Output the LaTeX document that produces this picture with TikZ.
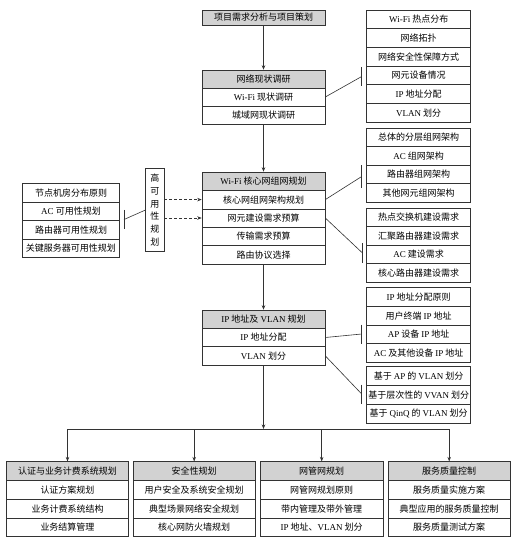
\documentclass[tikz,border=0pt]{standalone}
\usepackage{fontspec}
\setmainfont{Noto Sans CJK SC}
\newfontfamily\latf{Liberation Serif}
\newcommand\lt[1]{{\latf #1}}
\usetikzlibrary{arrows.meta}
\tikzset{
  cell/.style={draw=black!80, line width=0.6pt, inner sep=0pt, font=\fontsize{9}{10}\selectfont},
  ln/.style={draw=black!80, line width=0.6pt},
  arr/.style={ln, -{Stealth[length=4.5pt,width=3.5pt]}},
  darr/.style={arr, dashed, dash pattern=on 3pt off 2pt},
  hdr/.style={fill=gray!35}
}
\newcommand\cellstack[7]{%
  \foreach \t [count=\i] in {#7} {
    \ifnum\i=1 \def\cf{#6}\else\def\cf{white}\fi
    \node[cell, fill=\cf, minimum width=#4pt, minimum height=#5pt] (#1\i) at (#2, {#3+(\i-0.5)*#5}) {\t};
  }}
\begin{document}
\begin{tikzpicture}[x=1pt,y=-1pt]
\useasboundingbox[fill=white] (0,0) rectangle (515,539);
% main column
\node[cell, hdr, minimum width=123pt, minimum height=15pt] (top) at (263.5,17.5) {项目需求分析与项目策划};
\cellstack{n}{263.5}{70}{123}{18}{gray!35}{网络现状调研, \lt{Wi-Fi} 现状调研, 城域网现状调研}
\cellstack{c}{263.5}{172}{123}{18.4}{gray!35}{\lt{Wi-Fi} 核心网组网规划, 核心网组网架构规划, 网元建设需求预算, 传输需求预算, 路由协议选择}
\cellstack{ip}{263.5}{310}{123}{18.33}{gray!35}{\lt{IP} 地址及 \lt{VLAN} 规划, \lt{IP} 地址分配, \lt{VLAN} 划分}
% right lists
\cellstack{ra}{418.7}{10}{104}{18.67}{white}{\lt{Wi-Fi} 热点分布, 网络拓扑, 网络安全性保障方式, 网元设备情况, \lt{IP} 地址分配, \lt{VLAN} 划分}
\cellstack{rb}{418.7}{128}{104}{18.5}{white}{总体的分层组网架构, \lt{AC} 组网架构, 路由器组网架构, 其他网元组网架构}
\cellstack{rc}{418.7}{208}{104}{18.5}{white}{热点交换机建设需求, 汇聚路由器建设需求, \lt{AC} 建设需求, 核心路由器建设需求}
\cellstack{rd}{418.7}{287.7}{104}{18.65}{white}{\lt{IP} 地址分配原则, 用户终端 \lt{IP} 地址, \lt{AP} 设备 \lt{IP} 地址, \lt{AC} 及其他设备 \lt{IP} 地址}
\cellstack{re}{418.7}{366.7}{104}{18.87}{white}{基于 \lt{AP} 的 \lt{VLAN} 划分, 基于层次性的 \lt{VVAN} 划分, 基于 \lt{QinQ} 的 \lt{VLAN} 划分}
% left
\cellstack{la}{71}{183.3}{96.6}{18.6}{white}{节点机房分布原则, \lt{AC} 可用性规划, 路由器可用性规划, 关键服务器可用性规划}
\node[cell, minimum width=18.3pt, minimum height=83.4pt, align=center, font=\fontsize{9}{12.8}\selectfont] (ha) at (154.9,210) {高\\可\\用\\性\\规\\划};
% bottom
\cellstack{ba}{67.5}{461.7}{121.6}{18.75}{gray!35}{认证与业务计费系统规划, 认证方案规划, 业务计费系统结构, 业务结算管理}
\cellstack{bb}{194.2}{461.7}{121.6}{18.75}{gray!35}{安全性规划, 用户安全及系统安全规划, 典型场景网络安全规划, 核心网防火墙规划}
\cellstack{bc}{321.7}{461.7}{123.3}{18.75}{gray!35}{网管网规划, 网管网规划原则, 带内管理及带外管理, \lt{IP} 地址、\lt{VLAN} 划分}
\cellstack{bd}{449.2}{461.7}{121.7}{18.75}{gray!35}{服务质量控制, 服务质量实施方案, 典型应用的服务质量控制, 服务质量测试方案}
% main arrows
\draw[arr] (top.south) -- (n1.north);
\draw[arr] (n3.south) -- (c1.north);
\draw[arr] (c5.south) -- (ip1.north);
\coordinate (j) at (263.5,429);
\draw[arr] (ip3.south) -- (j);
\draw[arr] (j) -| (ba1.north);
\draw[arr] (j) -| (bb1.north);
\draw[arr] (j) -| (bc1.north);
\draw[arr] (j) -| (bd1.north);
% bracket connectors
\coordinate (k1) at (361.7,76.5);
\draw[ln] (n2.east) -- (k1);
\draw[ln] ([yshift=9.5pt]k1) -- ([yshift=-9.5pt]k1);
\coordinate (k2) at (361.7,176.5);
\draw[ln] (c2.east) -- (k2);
\draw[ln] ([yshift=11.5pt]k2) -- ([yshift=-11.5pt]k2);
\coordinate (k3) at (362.5,253);
\draw[ln] (c3.east) -- (k3);
\draw[ln] ([yshift=10pt]k3) -- ([yshift=-10pt]k3);
\coordinate (k4) at (361.7,334);
\draw[ln] (ip2.east) -- (k4);
\draw[ln] ([yshift=9.5pt]k4) -- ([yshift=-9.5pt]k4);
\coordinate (k5) at (361.7,394);
\draw[ln] (ip3.east) -- (k5);
\draw[ln] ([yshift=9.5pt]k5) -- ([yshift=-9.5pt]k5);
\coordinate (kl) at (124,219.5);
\draw[ln] (ha.west) -- (kl);
\draw[ln] ([yshift=9.7pt]kl) -- ([yshift=-9.7pt]kl);
% dashed arrows
\draw[darr] (ha.east |- c2.west) -- (c2.west);
\draw[darr] (ha.east |- c3.west) -- (c3.west);
\end{tikzpicture}
\end{document}
